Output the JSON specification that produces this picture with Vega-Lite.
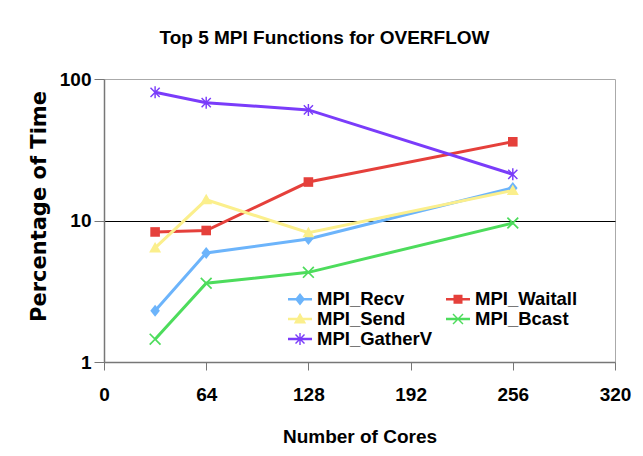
{
  "$schema": "https://vega.github.io/schema/vega-lite/v6.json",
  "width": 511,
  "height": 283,
  "autosize": "none",
  "padding": {"left": 104, "top": 79, "right": 28, "bottom": 94},
  "background": "white",
  "title": {
    "text": "Top 5 MPI Functions for OVERFLOW",
    "font": "Liberation Sans",
    "fontSize": 19,
    "fontWeight": "bold",
    "color": "black",
    "anchor": "middle",
    "frame": "group",
    "dx": -35,
    "baseline": "alphabetic",
    "offset": 7
  },
  "data": {
    "values": [
      {"series": "MPI_Recv", "cores": 32, "pct": 2.3},
      {"series": "MPI_Recv", "cores": 64, "pct": 5.9},
      {"series": "MPI_Recv", "cores": 128, "pct": 7.4},
      {"series": "MPI_Recv", "cores": 256, "pct": 17},
      {"series": "MPI_Waitall", "cores": 32, "pct": 8.3},
      {"series": "MPI_Waitall", "cores": 64, "pct": 8.5},
      {"series": "MPI_Waitall", "cores": 128, "pct": 18.7},
      {"series": "MPI_Waitall", "cores": 256, "pct": 36},
      {"series": "MPI_Send", "cores": 32, "pct": 6.4},
      {"series": "MPI_Send", "cores": 64, "pct": 14},
      {"series": "MPI_Send", "cores": 128, "pct": 8.2},
      {"series": "MPI_Send", "cores": 256, "pct": 16.3},
      {"series": "MPI_Bcast", "cores": 32, "pct": 1.45},
      {"series": "MPI_Bcast", "cores": 64, "pct": 3.6},
      {"series": "MPI_Bcast", "cores": 128, "pct": 4.3},
      {"series": "MPI_Bcast", "cores": 256, "pct": 9.6},
      {"series": "MPI_GatherV", "cores": 32, "pct": 80.5},
      {"series": "MPI_GatherV", "cores": 64, "pct": 68},
      {"series": "MPI_GatherV", "cores": 128, "pct": 60.5},
      {"series": "MPI_GatherV", "cores": 256, "pct": 21.2}
    ]
  },
  "encoding": {
    "x": {
      "field": "cores",
      "type": "quantitative",
      "scale": {"domain": [0, 320], "nice": false},
      "axis": {
        "values": [0, 64, 128, 192, 256, 320],
        "title": "Number of Cores",
        "grid": false,
        "labelFlush": false,
        "labelOverlap": false,
        "tickSize": 8,
        "labelPadding": 15,
        "titlePadding": 23
      }
    },
    "y": {
      "field": "pct",
      "type": "quantitative",
      "scale": {"type": "log", "domain": [1, 100], "nice": false},
      "axis": {
        "values": [1, 10, 100],
        "format": "d",
        "title": "Percentage of Time",
        "titleFont": "DejaVu Sans",
        "titleFontSize": 21,
        "grid": true,
        "gridColor": {"condition": {"test": "datum.value === 10", "value": "black"}, "value": "transparent"},
        "tickSize": 10,
        "labelPadding": 3,
        "labelOverlap": false,
        "titleAngle": -90,
        "titleX": -65,
        "titleY": 127,
        "titleAlign": "center",
        "titleBaseline": "middle"
      }
    },
    "color": {
      "field": "series",
      "type": "nominal",
      "title": null,
      "scale": {
        "domain": ["MPI_Recv", "MPI_Waitall", "MPI_Send", "MPI_Bcast", "MPI_GatherV"],
        "range": ["#6cb4fb", "#e5403b", "#fbef8c", "#4ddc5c", "#7a3cfa"]
      }
    }
  },
  "layer": [
    {
      "mark": {"type": "line", "strokeWidth": 3}
    },
    {
      "mark": {"type": "point", "filled": true, "opacity": 1, "size": 144},
      "encoding": {
        "shape": {
          "condition": [
            {"test": "datum.series === 'MPI_Recv'", "value": "M0,-1L0.8,0L0,1L-0.8,0Z"},
            {"test": "datum.series === 'MPI_Waitall'", "value": "M-0.8,-0.8L0.8,-0.8L0.8,0.8L-0.8,0.8Z"},
            {"test": "datum.series === 'MPI_Send'", "value": "M0,-1L1,0.75L-1,0.75Z"},
            {"test": "datum.series === 'MPI_Bcast'", "value": "M-1,-0.8L-0.8,-1L1,0.8L0.8,1Z M-1,0.8L0.8,-1L1,-0.8L-0.8,1Z"}
          ],
          "value": "M-0.85,-0.68L-0.68,-0.85L0.85,0.68L0.68,0.85Z M-0.85,0.68L0.68,-0.85L0.85,-0.68L-0.68,0.85Z M-0.12,-1L0.12,-1L0.12,1L-0.12,1Z"
        }
      }
    },
    {
      "mark": {"type": "point", "filled": true, "opacity": 0, "size": 10},
      "encoding": {
        "shape": {
          "field": "series",
          "type": "nominal",
          "title": null,
          "scale": {
            "domain": ["MPI_Recv", "MPI_Waitall", "MPI_Send", "MPI_Bcast", "MPI_GatherV"],
            "range": [
              "M-1.2,-0.12L1.2,-0.12L1.2,0.12L-1.2,0.12Z M0,-0.62L0.5,0L0,0.62L-0.5,0Z",
              "M-1.2,-0.12L1.2,-0.12L1.2,0.12L-1.2,0.12Z M-0.45,-0.45L0.45,-0.45L0.45,0.45L-0.45,0.45Z",
              "M-1.2,-0.12L1.2,-0.12L1.2,0.12L-1.2,0.12Z M0,-0.62L0.62,0.45L-0.62,0.45Z",
              "M-1.2,-0.12L1.2,-0.12L1.2,0.12L-1.2,0.12Z M-0.55,-0.45L-0.45,-0.55L0.55,0.45L0.45,0.55Z M-0.55,0.45L0.45,-0.55L0.55,-0.45L-0.45,0.55Z",
              "M-1.2,-0.12L1.2,-0.12L1.2,0.12L-1.2,0.12Z M-0.5,-0.4L-0.4,-0.5L0.5,0.4L0.4,0.5Z M-0.5,0.4L0.4,-0.5L0.5,-0.4L-0.4,0.5Z M-0.07,-0.6L0.07,-0.6L0.07,0.6L-0.07,0.6Z"
            ]
          }
        }
      }
    }
  ],
  "config": {
    "font": "Liberation Sans",
    "view": {"stroke": "#aaaaaa"},
    "axis": {
      "labelFont": "Liberation Sans",
      "labelFontSize": 19,
      "labelFontWeight": "bold",
      "labelColor": "black",
      "titleFont": "Liberation Sans",
      "titleFontSize": 19,
      "titleFontWeight": "bold",
      "titleColor": "black",
      "domainColor": "#777777",
      "domainWidth": 1.5,
      "tickColor": "#777777"
    },
    "legend": {
      "orient": "none",
      "legendX": 186,
      "legendY": 210,
      "direction": "horizontal",
      "columns": 2,
      "columnPadding": 13,
      "rowPadding": 0,
      "symbolSize": 400,
      "symbolOpacity": 1,
      "symbolStrokeWidth": 0,
      "labelFont": "Liberation Sans",
      "labelFontSize": 18.5,
      "labelFontWeight": "bold",
      "labelColor": "black",
      "labelOffset": 7
    }
  }
}
